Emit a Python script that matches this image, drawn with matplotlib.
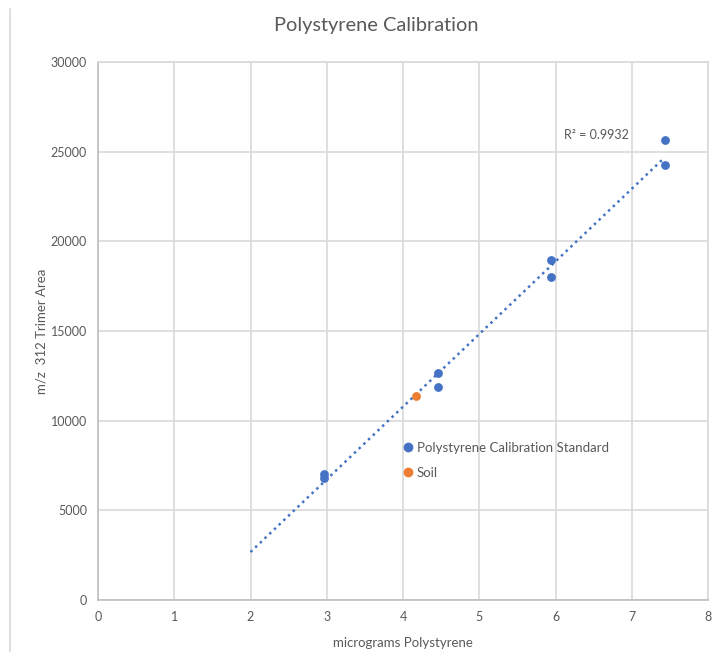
import numpy as np
import matplotlib
matplotlib.use("Agg")
import matplotlib.pyplot as plt
from matplotlib.lines import Line2D

plt.rcParams['font.family'] = ['Lato', 'DejaVu Sans']

# Data
std_x = [2.97, 2.97, 4.46, 4.46, 5.94, 5.94, 7.44, 7.44]
std_y = [7000, 6830, 12650, 11850, 18950, 18020, 25650, 24230]
soil_x = [4.17]
soil_y = [11380]
trend_start = 2.0
r2_label = "R² = 0.9932"
x_ticks = [0, 1, 2, 3, 4, 5, 6, 7, 8]
y_ticks = [0, 5000, 10000, 15000, 20000, 25000, 30000]

blue = '#4472c4'
orange = '#ed7d31'
txt = '#595959'

fig = plt.figure(figsize=(7.12, 6.52), dpi=100)
W, H = 712, 652
ax = fig.add_axes([98 / W, 1 - 600 / H, (708 - 98) / W, (600 - 62) / H])

ax.set_xlim(0, 8)
ax.set_ylim(0, 30000)
ax.set_xticks(x_ticks)
ax.set_yticks(y_ticks)
ax.grid(True, color='#d9d9d9', linewidth=1.2)
ax.set_axisbelow(True)
for s in ['top', 'right']:
    ax.spines[s].set_color('#d9d9d9')
    ax.spines[s].set_linewidth(1.2)
for s in ['left', 'bottom']:
    ax.spines[s].set_color('#bfbfbf')
    ax.spines[s].set_linewidth(1.2)
ax.tick_params(length=0, labelsize=9, labelcolor=txt, pad=8)

# trendline
coef = np.polyfit(std_x, std_y, 1)
tx = np.array([trend_start, max(std_x) - 0.03])
ax.plot(tx, np.polyval(coef, tx), linestyle=(0, (1, 1.6)), color=blue, linewidth=1.8, zorder=2)

ax.scatter(std_x, std_y, s=40, color=blue, zorder=3, linewidths=0)
ax.scatter(soil_x, soil_y, s=40, color=orange, zorder=3, linewidths=0)

ax.text(6.11, 25950, r2_label, fontsize=9, color=txt, va='center', ha='left')

ax.set_xlabel('micrograms Polystyrene', fontsize=9.5, color=txt, labelpad=10)
ax.set_ylabel('m/z  312 Trimer Area', fontsize=9.5, color=txt, labelpad=2)

# in-plot legend
leg = ax.legend(handles=[
    Line2D([], [], marker='o', linestyle='none', color=blue, markersize=6, label='Polystyrene Calibration Standard'),
    Line2D([], [], marker='o', linestyle='none', color=orange, markersize=6, label='Soil')],
    loc='upper left', bbox_to_anchor=((393 - 98) / 610, (600 - 435) / 538),
    frameon=False, fontsize=9.5, labelcolor=txt, handletextpad=0.1,
    labelspacing=0.98, borderpad=0, handlelength=1.2)

fig.text(376 / W, 1 - 26 / H, 'Polystyrene Calibration', ha='center', va='center',
         fontsize=14.4, color=txt)

fig.add_artist(Line2D([9.5 / W, 9.5 / W], [0, 1 - 9 / H], color='#d9d9d9', linewidth=1.2,
                      transform=fig.transFigure))

fig.savefig('out.png', dpi=100)
